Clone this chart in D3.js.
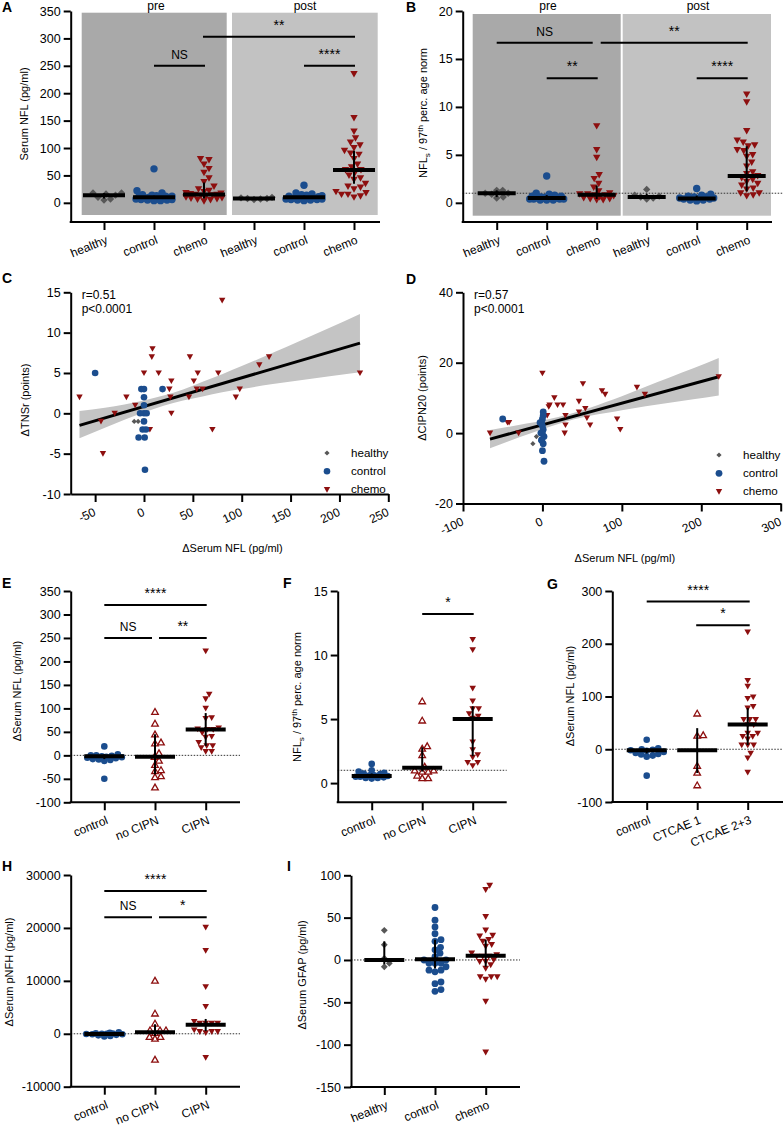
<!DOCTYPE html>
<html>
<head>
<meta charset="utf-8">
<script src="https://cdn.jsdelivr.net/npm/d3@7"></script>
<style>
body { margin: 0; background: #fff; }
svg text { font-family: Arial, "Liberation Sans", sans-serif; fill: #000; }
</style>
</head>
<body>
<svg id="fig" width="783" height="1128"></svg>
<script>
// colours of the three groups
var cHealthy = "#575757";
var cControl = "#1b4d8e";
var cChemo = "#8d0f0f";

// ---- A: serum NFL, pre / post
var aCats = ["healthy", "control", "chemo", "healthy", "control", "chemo"];
var aPreHealthy = [5, 7, 10, 14, 16, 18, 18];
var aPreControl = [62, 22, 18, 15, 14, 13, 12, 12, 11, 10, 10, 10, 9, 9, 8, 8, 7, 7, 6, 6, 5, 5, 4, 4];
var aPreChemo = [80, 78, 70, 62, 55, 45, 38, 30, 25, 22, 20, 18, 17, 16, 15, 15, 14, 13, 12, 10, 9, 8, 7, 6, 5, 3];
var aPostHealthy = [10, 9, 8, 8, 7, 6];
var aPostControl = [32, 18, 16, 15, 14, 13, 12, 11, 10, 10, 10, 9, 9, 8, 8, 7, 7, 6, 6, 5, 5, 4];
var aPostChemo = [235, 155, 130, 118, 110, 105, 100, 95, 90, 88, 80, 70, 65, 60, 60, 55, 50, 45, 42, 35, 30, 28, 25, 20, 18, 15, 15, 12, 10];
var aMed = [14, 10, 15, 8, 10, 60];
var aLo = [8, 7, 8, 7, 7, 35];
var aHi = [18, 13, 37, 9, 13, 95];
var aTicks = [0, 50, 100, 150, 200, 250, 300, 350];

// ---- B: NFLs / 97th percentile age norm
var bPreHealthy = [1.3, 1.3, 1.0, 1.0, 0.9, 0.6, 0.5];
var bPreControl = [2.8, 1.0, 0.9, 0.8, 0.7, 0.7, 0.6, 0.6, 0.5, 0.5, 0.5, 0.4, 0.4, 0.4, 0.3, 0.3, 0.3, 0.5, 0.6, 0.4];
var bPreChemo = [8.0, 5.5, 4.7, 2.9, 2.5, 2.0, 1.6, 1.2, 1.0, 0.9, 0.9, 0.8, 0.8, 0.7, 0.6, 0.5, 0.4, 0.4, 0.3, 0.3];
var bPostHealthy = [1.4, 0.8, 0.7, 0.6, 0.5, 0.4];
var bPostControl = [1.5, 0.9, 0.8, 0.7, 0.6, 0.5, 0.5, 0.4, 0.4, 0.3, 0.3, 0.2, 0.6, 0.5];
var bPostChemo = [11.3, 10.5, 7.5, 6.5, 6.3, 6.0, 5.9, 5.5, 5.4, 5.0, 4.8, 4.2, 3.8, 3.2, 3.0, 2.8, 2.6, 2.4, 2.2, 2.0, 1.8, 1.5, 1.4, 1.0, 1.0, 0.8, 0.7];
var bMed = [1.0, 0.5, 0.85, 0.6, 0.45, 2.8];
var bLo = [0.6, 0.35, 0.4, 0.45, 0.3, 1.2];
var bHi = [1.3, 0.8, 1.8, 0.95, 0.75, 5.9];
var bTicks = [0, 5, 10, 15, 20];

// ---- C: delta TNSr vs delta serum NFL
var cChemoX = [-66, -44, -42, -30, -18, -9, 0, 6, 8, 8.7, 15, 26, 28, 27, 28, 47, 46, 51, 55, 54, 60, 76, 70, 80, 94, 98, 118, 128, 221];
var cChemoY = [2, -1, -5, 0, 2, 1, 5, -2, 7, 8, 5, 3, 4, 2, 0, 7, 2, 4, 5, 3, 3, 5, -2, 14, 2, 3, 6, 7, 5];
var cControlX = [-50, -2.7, 0, 0, 0, -4, 0, 2.7, 0, -1.4, 2, -5.5, 0.7, 19, 1];
var cControlY = [5, 3, 3, 2, 1, 0, 0, 0, -1, -2, -2, -3, -3, 3, -7];
var cHealthyX = [-10, -6];
var cHealthyY = [-1, -1];
var cFitX = [-66, 221];
var cFitY = [-1.5, 8.7];
var cBandX = [-66, -40, -20, 0, 20, 40, 60, 80, 100, 130, 160, 190, 221];
var cBandLo = [-3.1, -1.8, -0.8, 0.1, 0.95, 1.6, 2.1, 2.6, 3.0, 3.6, 4.1, 4.6, 5.1];
var cBandHi = [0.3, 0.7, 1.1, 1.6, 2.2, 2.95, 3.9, 4.85, 5.85, 7.4, 9.0, 10.6, 12.3];

// ---- D: delta CIPN20 vs delta serum NFL
var dChemoX = [-66, -44, -42, -30, 0, 6, 8, 9, 15, 19, 26, 29, 29, 28, 46, 46, 51, 54, 56, 60, 75, 79, 94, 98, 119, 129, 222];
var dChemoY = [0, 3, 3, 0, 17, 5, 7.5, 8, 10, 8, 8, 5, 2.3, 0, 9, 6, 14, 7, 4.3, 2.3, 12, 11, 4, 1, 13, 11, 16];
var dControlX = [-50, 1, 1, 0, -1, -3, 0, 1, -2, 0, 2, -1, 1, 0, -1, 2];
var dControlY = [4, 6, 5, 4, 3, 3, 2, 1, 0, 0, -1, -2, -3, -5, -2, -8];
var dHealthyX = [-12, -7.6];
var dHealthyY = [-3, -1];
var dFitX = [-66, 222];
var dFitY = [-1.7, 16];
var dBandX = [-66, -40, -20, 0, 20, 40, 60, 80, 100, 130, 160, 190, 222];
var dBandLo = [-4.3, -2.1, -0.5, 1.1, 2.6, 3.9, 4.9, 5.7, 6.5, 7.6, 8.6, 9.6, 10.7];
var dBandHi = [0.9, 1.9, 2.7, 3.6, 4.6, 5.8, 7.2, 8.8, 10.5, 13.2, 15.8, 18.4, 21.3];

// ---- E: delta serum NFL by CIPN
var eCats = ["control", "no CIPN", "CIPN"];
var eControl = [19, 2, 0, 0, -1, -2, -3, -4, -5, -6, -8, -9, -10, -12, -50];
var eNoCipn = [93, 68, 45, 28, 26, 5, -3, -11, -20, -31, -33, -44, -46, -68];
var eCipn = [222, 130, 120, 100, 80, 78, 58, 56, 55, 55, 48, 40, 38, 27, 20, 20, 16, 8, 8];
var eMed = [-2, -3, 55];
var eLo = [-8, -40, 20];
var eHi = [2, 45, 90];
var eTicks = [-100, -50, 0, 50, 100, 150, 200, 250, 300, 350];

// ---- F: NFLs / 97th percentile by CIPN
var fControl = [1.5, 1.0, 0.9, 0.8, 0.75, 0.7, 0.6, 0.6, 0.55, 0.5, 0.5, 0.45, 0.4, 0.4, 0.35];
var fNoCipn = [6.4, 4.9, 2.9, 2.7, 2.2, 1.3, 1.0, 1.0, 0.9, 0.9, 0.6, 0.4, 0.4];
var fCipn = [11.2, 10.4, 7.4, 6.4, 5.8, 5.8, 5.4, 5.2, 5.05, 3.2, 2.6, 2.2, 2.0, 1.6, 1.6, 1.35];
var fMed = [0.55, 1.2, 5.0];
var fLo = [0.45, 0.9, 2.1];
var fHi = [0.75, 2.8, 6.0];
var fTicks = [0, 5, 10, 15];

// ---- G: delta serum NFL by CTCAE grade
var gCats = ["control", "CTCAE 1", "CTCAE 2+3"];
var gControl = [18, 2, 0, -1, -2, -3, -5, -7, -9, -10, -12, -14, -50];
var gCtcae1 = [68, 27, 26, -31, -44, -68];
var gCtcae23 = [222, 130, 119, 99, 96, 81, 78, 56, 56, 56, 46, 46, 30, 30, 24, 24, 19, 8, 8, 8, -8, -17, -44];
var gMed = [-2, -2, 47];
var gLo = [-8, -45, 8];
var gHi = [2, 40, 78];
var gTicks = [-100, 0, 100, 200, 300];

// ---- H: delta serum pNFH by CIPN
var hControl = [300, 200, 100, 50, 0, 0, -50, -100, -100, -200, -300, -400, -500];
var hNoCipn = [10060, 3860, 1960, 700, 700, 700, 190, -570, -570, -890, -4870];
var hCipn = [20100, 15700, 8860, 5130, 2280, 1960, 1960, 1960, 1960, 700, 380, 380, 380, 190, -4490];
var hMed = [-50, 300, 1700];
var hLo = [-250, -400, 500];
var hHi = [150, 1800, 2800];
var hTicks = [-10000, 0, 10000, 20000, 30000];

// ---- I: delta serum GFAP
var iCats = ["healthy", "control", "chemo"];
var iHealthy = [35, 18, 2, -4, -8];
var iControl = [62, 47, 39, 31, 24, 22, 15, 12, 8, 4, 0, 0, -4, -4, -4, -8, -12, -12, -14, -26, -28, -35, -37];
var iChemo = [88, 83, 51, 35, 29, 28, 24, 22, 18, 16, 8, 6, 4, 4, 4, 0, -2, -2, -6, -10, -20, -20, -20, -23, -49, -109];
var iMed = [0, 1, 5];
var iLo = [-5, -10, -8];
var iHi = [22, 24, 24];
var iTicks = [-150, -100, -50, 0, 50, 100];

var svg = d3.select("#fig");

function shapePath(shape, r) {
    if (shape == "diamond") return "M0," + (-r) + "L" + r + ",0L0," + r + "L" + (-r) + ",0Z";
    if (shape == "tri") return "M" + (-r) + "," + (-r * 0.8) + "L" + r + "," + (-r * 0.8) + "L0," + (r * 0.95) + "Z";
    // open, upward triangle
    return "M" + (-r) + "," + (r * 0.8) + "L" + r + "," + (r * 0.8) + "L0," + (-r * 0.95) + "Z";
}

function drawMarker(g, shape, x, y, r, color) {
    if (shape == "circle") {
        g.append("circle").attr("cx", x).attr("cy", y).attr("r", r).attr("fill", color);
        return;
    }
    var m = g.append("path").attr("d", shapePath(shape, r))
        .attr("transform", "translate(" + x + "," + y + ")");
    if (shape == "triOpen") m.attr("fill", "#fff").attr("stroke", color).attr("stroke-width", 1.3);
    else m.attr("fill", color);
}

// simple beeswarm: push each point sideways until it stops overlapping,
// but never further than maxSpread (dense groups are allowed to overlap)
function swarm(vals, y, r, maxSpread) {
    var placed = [];
    var dist = 2 * r * 0.85;
    vals.slice().sort(function (a, b) { return a - b; }).forEach(function (v) {
        var py = y(v), best = 0, bestGap = -1;
        for (var k = 0; ; k++) {
            var off = (k % 2 ? 1 : -1) * Math.ceil(k / 2) * 0.5;
            if (Math.abs(off) > maxSpread) break;
            var gap = d3.min(placed, function (p) {
                return Math.sqrt((p.dx - off) * (p.dx - off) + (p.y - py) * (p.y - py));
            });
            if (gap == null || gap >= dist) { best = off; bestGap = dist; break; }
            if (gap > bestGap + 0.3) { bestGap = gap; best = off; }
        }
        placed.push({dx: best, y: py});
    });
    return placed;
}

function styleAxis(a) {
    a.attr("font-family", null).attr("font-size", null);
    a.selectAll(".domain, .tick line").attr("stroke", "#000").attr("stroke-width", 2);
    a.selectAll("text").attr("font-size", 12.5);
}

function panelLetter(t, x, y) {
    svg.append("text").attr("x", x).attr("y", y).text(t)
        .attr("font-size", 14).attr("font-weight", "bold");
}

// y axis title; "nfl" gives the NFLs / 97th perc. label
function yTitle(g, title, x, y) {
    var t = g.append("text").attr("transform", "translate(" + x + "," + y + ") rotate(-90)")
        .attr("text-anchor", "middle").attr("font-size", 11);
    if (title == "nfl") {
        t.append("tspan").text("NFL");
        t.append("tspan").attr("dy", 3).attr("font-size", 8).text("s");
        t.append("tspan").attr("dy", -3).text(" / 97");
        t.append("tspan").attr("dy", -4).attr("font-size", 8).text("th");
        t.append("tspan").attr("dy", 4).text(" perc. age norm");
    } else {
        t.text(title);
    }
}

function dotPanel(p) {
    var g = svg.append("g");
    var n = p.cats.length;
    var y = d3.scaleLinear().domain(p.yDomain).range([p.axisY, p.top]);
    var x = d3.scaleLinear().domain([0, n - 1]).range(p.catRange);

    (p.bands || []).forEach(function (b) {
        g.append("rect").attr("x", b[0]).attr("y", b[1]).attr("width", b[2] - b[0])
            .attr("height", b[3] - b[1]).attr("fill", b[4]);
    });

    if (p.ref != null) {
        g.append("line").attr("x1", p.x0).attr("x2", p.refEnd)
            .attr("y1", y(p.ref)).attr("y2", y(p.ref))
            .attr("stroke", "#333").attr("stroke-width", 1).attr("stroke-dasharray", "1.5,1.5");
    }

    p.groups.forEach(function (vals, i) {
        swarm(vals, y, p.r, p.spread).forEach(function (pt) {
            drawMarker(g, p.shapes[i], x(i) + pt.dx, pt.y, p.r, p.colors[i]);
        });
    });

    // median with interquartile range
    p.med.forEach(function (m, i) {
        g.append("line").attr("x1", x(i)).attr("x2", x(i))
            .attr("y1", y(p.lo[i])).attr("y2", y(p.hi[i]))
            .attr("stroke", "#000").attr("stroke-width", 2);
        g.append("line").attr("x1", x(i) - p.barHalf).attr("x2", x(i) + p.barHalf)
            .attr("y1", y(m)).attr("y2", y(m))
            .attr("stroke", "#000").attr("stroke-width", 4);
    });

    var ya = g.append("g").attr("transform", "translate(" + p.x0 + ",0)")
        .call(d3.axisLeft(y).tickValues(p.ticks).tickSize(7).tickPadding(3).tickSizeOuter(0)
            .tickFormat(function (d) { return String(d); }));
    styleAxis(ya);

    var xa = g.append("g").attr("transform", "translate(0," + p.axisY + ")")
        .call(d3.axisBottom(x).tickValues(d3.range(n)).tickSize(8).tickSizeOuter(0)
            .tickFormat(function (i) { return p.cats[i]; }));
    styleAxis(xa);
    xa.select(".domain").remove();
    xa.selectAll("text").attr("y", 0).attr("dy", 0).attr("text-anchor", "end").attr("font-size", 12)
        .attr("transform", "translate(4,21) rotate(-22)");
    g.append("line").attr("x1", p.x0 - 1).attr("x2", p.xEnd)
        .attr("y1", p.axisY).attr("y2", p.axisY).attr("stroke", "#000").attr("stroke-width", 2);

    // significance bars: [from cat, dx, to cat, dx, value, label]
    p.sig.forEach(function (s) {
        var x1 = x(s[0]) + s[1], x2 = x(s[2]) + s[3], sy = y(s[4]);
        g.append("line").attr("x1", x1).attr("x2", x2).attr("y1", sy).attr("y2", sy)
            .attr("stroke", "#000").attr("stroke-width", 2);
        g.append("text").attr("x", (x1 + x2) / 2).attr("y", sy - 7)
            .attr("text-anchor", "middle").attr("font-size", s[5] == "NS" ? 12 : 14).text(s[5]);
    });

    yTitle(g, p.title, p.titleX, p.titleY);
    return g;
}

function scatterPanel(p) {
    var g = svg.append("g");
    var x = d3.scaleLinear().domain(p.xDomain).range([p.x0, p.xEnd]);
    var y = d3.scaleLinear().domain(p.yDomain).range([p.axisY, p.top]);

    var area = d3.area().curve(d3.curveMonotoneX)
        .x(function (d, i) { return x(p.bandX[i]); })
        .y0(function (d, i) { return y(p.bandLo[i]); })
        .y1(function (d, i) { return y(p.bandHi[i]); });
    g.append("path").attr("d", area(p.bandX)).attr("fill", "#c4c4c4");
    g.append("line").attr("x1", x(p.fitX[0])).attr("x2", x(p.fitX[1]))
        .attr("y1", y(p.fitY[0])).attr("y2", y(p.fitY[1]))
        .attr("stroke", "#000").attr("stroke-width", 3);

    p.sets.forEach(function (s) {
        s.x.forEach(function (v, i) {
            drawMarker(g, s.shape, x(v), y(s.y[i]), s.r, s.color);
        });
    });

    var ya = g.append("g").attr("transform", "translate(" + p.x0 + ",0)")
        .call(d3.axisLeft(y).tickValues(p.yTicks).tickSize(7).tickPadding(3).tickSizeOuter(0)
            .tickFormat(function (d) { return String(d); }));
    styleAxis(ya);
    var xa = g.append("g").attr("transform", "translate(0," + p.axisY + ")")
        .call(d3.axisBottom(x).tickValues(p.xTicks).tickSize(8).tickSizeOuter(0)
            .tickFormat(function (d) { return String(d); }));
    styleAxis(xa);
    xa.selectAll("text").attr("y", 0).attr("dy", 0).attr("text-anchor", "end").attr("font-size", 12)
        .attr("transform", "translate(1,21) rotate(-25)");

    g.append("text").attr("x", p.x0 + 11).attr("y", p.top + 7).attr("font-size", 12).text(p.r);
    g.append("text").attr("x", p.x0 + 11).attr("y", p.top + 21).attr("font-size", 12).text("p<0.0001");

    // legend
    p.sets.slice().reverse().forEach(function (s, i) {
        var ly = p.legendY + i * 18.3;
        drawMarker(g, s.shape, p.legendX, ly, s.r, s.color);
        g.append("text").attr("x", p.legendX + 24).attr("y", ly + 3.8).attr("font-size", 11.6).text(s.name);
    });

    g.append("text").attr("x", (p.x0 + p.xEnd) / 2 + 3).attr("y", p.axisY + 58)
        .attr("text-anchor", "middle").attr("font-size", 11).text("\u0394Serum NFL (pg/ml)");
    yTitle(g, p.title, p.titleX, p.titleY);
}

var threeCols = [cHealthy, cControl, cChemo];

// A
dotPanel({
    cats: aCats, catRange: [104, 354], x0: 70.7, xEnd: 380, axisY: 222, top: 11,
    yDomain: [-35, 350], ticks: aTicks,
    groups: [aPreHealthy, aPreControl, aPreChemo, aPostHealthy, aPostControl, aPostChemo],
    shapes: ["diamond", "circle", "tri", "diamond", "circle", "tri"],
    colors: threeCols.concat(threeCols),
    med: aMed, lo: aLo, hi: aHi, r: 3.7, barHalf: 21, spread: 18,
    bands: [[81.7, 12.7, 226.7, 215, "#a9a9a9"], [232, 12.7, 377.7, 215, "#c2c2c2"]],
    sig: [[1, 0, 2, 1, 250, "NS"], [2, -1, 5, 1, 303, "**"], [4, 0, 5, 1, 250, "****"]],
    title: "Serum NFL (pg/ml)", titleX: 28, titleY: 114
});
svg.append("text").attr("x", 156).attr("y", 10).attr("text-anchor", "middle").attr("font-size", 12).text("pre");
svg.append("text").attr("x", 305).attr("y", 10).attr("text-anchor", "middle").attr("font-size", 12).text("post");

// B
dotPanel({
    cats: aCats, catRange: [496.7, 746.7], x0: 462.7, xEnd: 772, axisY: 222, top: 11,
    yDomain: [-2, 20], ticks: bTicks,
    groups: [bPreHealthy, bPreControl, bPreChemo, bPostHealthy, bPostControl, bPostChemo],
    shapes: ["diamond", "circle", "tri", "diamond", "circle", "tri"],
    colors: threeCols.concat(threeCols),
    med: bMed, lo: bLo, hi: bHi, r: 3.7, barHalf: 19, spread: 17,
    bands: [[472.7, 14, 620.7, 215.7, "#a9a9a9"], [622.7, 14, 771, 215.7, "#c2c2c2"]],
    ref: 1, refEnd: 783,
    sig: [[0, 0, 2, -4, 16.7, "NS"], [2, 4, 5, 1, 16.7, "**"], [1, 0, 2, 1, 13, "**"], [4, 0, 5, 1, 13, "****"]],
    title: "nfl", titleX: 427, titleY: 113
});
svg.append("text").attr("x", 548).attr("y", 10).attr("text-anchor", "middle").attr("font-size", 12).text("pre");
svg.append("text").attr("x", 698).attr("y", 10).attr("text-anchor", "middle").attr("font-size", 12).text("post");

// C
scatterPanel({
    xDomain: [-75, 250], yDomain: [-10, 15], x0: 70.7, xEnd: 388.3, axisY: 494, top: 292.3,
    xTicks: [-50, 0, 50, 100, 150, 200, 250], yTicks: [-10, -5, 0, 5, 10, 15],
    bandX: cBandX, bandLo: cBandLo, bandHi: cBandHi, fitX: cFitX, fitY: cFitY,
    sets: [
        {name: "chemo", x: cChemoX, y: cChemoY, shape: "tri", r: 3.2, color: cChemo},
        {name: "control", x: cControlX, y: cControlY, shape: "circle", r: 3.3, color: cControl},
        {name: "healthy", x: cHealthyX, y: cHealthyY, shape: "diamond", r: 2.6, color: cHealthy}
    ],
    r: "r=0.51", legendX: 327, legendY: 453,
    title: "\u0394TNSr (points)", titleX: 29, titleY: 400
});

// D
scatterPanel({
    xDomain: [-100, 300], yDomain: [-20, 40], x0: 463, xEnd: 780.7, axisY: 503.5, top: 292.3,
    xTicks: [-100, 0, 100, 200, 300], yTicks: [-20, 0, 20, 40],
    bandX: dBandX, bandLo: dBandLo, bandHi: dBandHi, fitX: dFitX, fitY: dFitY,
    sets: [
        {name: "chemo", x: dChemoX, y: dChemoY, shape: "tri", r: 3.2, color: cChemo},
        {name: "control", x: dControlX, y: dControlY, shape: "circle", r: 3.4, color: cControl},
        {name: "healthy", x: dHealthyX, y: dHealthyY, shape: "diamond", r: 2.6, color: cHealthy}
    ],
    r: "r=0.57", legendX: 719, legendY: 455,
    title: "\u0394CIPN20 (points)", titleX: 426, titleY: 398
});

// E
dotPanel({
    cats: eCats, catRange: [104.3, 205.7], x0: 70.7, xEnd: 240, axisY: 802.3, top: 591,
    yDomain: [-100, 350], ticks: eTicks,
    groups: [eControl, eNoCipn, eCipn], shapes: ["circle", "triOpen", "tri"],
    colors: [cControl, cChemo, cChemo],
    med: eMed, lo: eLo, hi: eHi, r: 3.3, barHalf: 20, spread: 18,
    ref: 0, refEnd: 240,
    sig: [[0, 0, 2, 1, 320, "****"], [0, 0, 1, -3, 250, "NS"], [1, 4, 2, 1, 250, "**"]],
    title: "\u0394Serum NFL (pg/ml)", titleX: 21, titleY: 691
});

// F
dotPanel({
    cats: eCats, catRange: [371.7, 472.7], x0: 337.7, xEnd: 506.7, axisY: 802.3, top: 591,
    yDomain: [-1.5, 15], ticks: fTicks,
    groups: [fControl, fNoCipn, fCipn], shapes: ["circle", "triOpen", "tri"],
    colors: [cControl, cChemo, cChemo],
    med: fMed, lo: fLo, hi: fHi, r: 3.3, barHalf: 20, spread: 16,
    ref: 1, refEnd: 506.7,
    sig: [[1, 0, 2, 1, 13.2, "*"]],
    title: "nfl", titleX: 301, titleY: 697
});

// G
dotPanel({
    cats: gCats, catRange: [646.7, 747.7], x0: 612.3, xEnd: 783, axisY: 802, top: 591,
    yDomain: [-100, 300], ticks: gTicks,
    groups: [gControl, gCtcae1, gCtcae23], shapes: ["circle", "triOpen", "tri"],
    colors: [cControl, cChemo, cChemo],
    med: gMed, lo: gLo, hi: gHi, r: 3.3, barHalf: 20, spread: 18,
    ref: 0, refEnd: 783,
    sig: [[0, 0, 2, 2, 280, "****"], [1, -1, 2, 2, 235, "*"]],
    title: "\u0394Serum NFL (pg/ml)", titleX: 573.5, titleY: 696
});

// H
dotPanel({
    cats: eCats, catRange: [104.3, 205.7], x0: 70.7, xEnd: 240, axisY: 1086.7, top: 875,
    yDomain: [-10000, 30000], ticks: hTicks,
    groups: [hControl, hNoCipn, hCipn], shapes: ["circle", "triOpen", "tri"],
    colors: [cControl, cChemo, cChemo],
    med: hMed, lo: hLo, hi: hHi, r: 3.3, barHalf: 20, spread: 18,
    ref: 0, refEnd: 240,
    sig: [[0, 0, 2, 1, 27000, "****"], [0, 0, 1, -3, 22000, "NS"], [1, 4, 2, 1, 22000, "*"]],
    title: "\u0394Serum pNFH (pg/ml)", titleX: 12.5, titleY: 972
});

// I
dotPanel({
    cats: iCats, catRange: [384.3, 485.7], x0: 351, xEnd: 520, axisY: 1087, top: 875.3,
    yDomain: [-150, 100], ticks: iTicks,
    groups: [iHealthy, iControl, iChemo], shapes: ["diamond", "circle", "tri"],
    colors: threeCols,
    med: iMed, lo: iLo, hi: iHi, r: 3.4, barHalf: 20, spread: 18,
    ref: 0, refEnd: 520,
    sig: [],
    title: "\u0394Serum GFAP (pg/ml)", titleX: 306, titleY: 975
});

panelLetter("A", 2, 12);
panelLetter("B", 406, 12);
panelLetter("C", 2, 283);
panelLetter("D", 406, 284);
panelLetter("E", 2, 588);
panelLetter("F", 283, 588);
panelLetter("G", 547, 589);
panelLetter("H", 2, 871);
panelLetter("I", 287, 871);
</script>
</body>
</html>
